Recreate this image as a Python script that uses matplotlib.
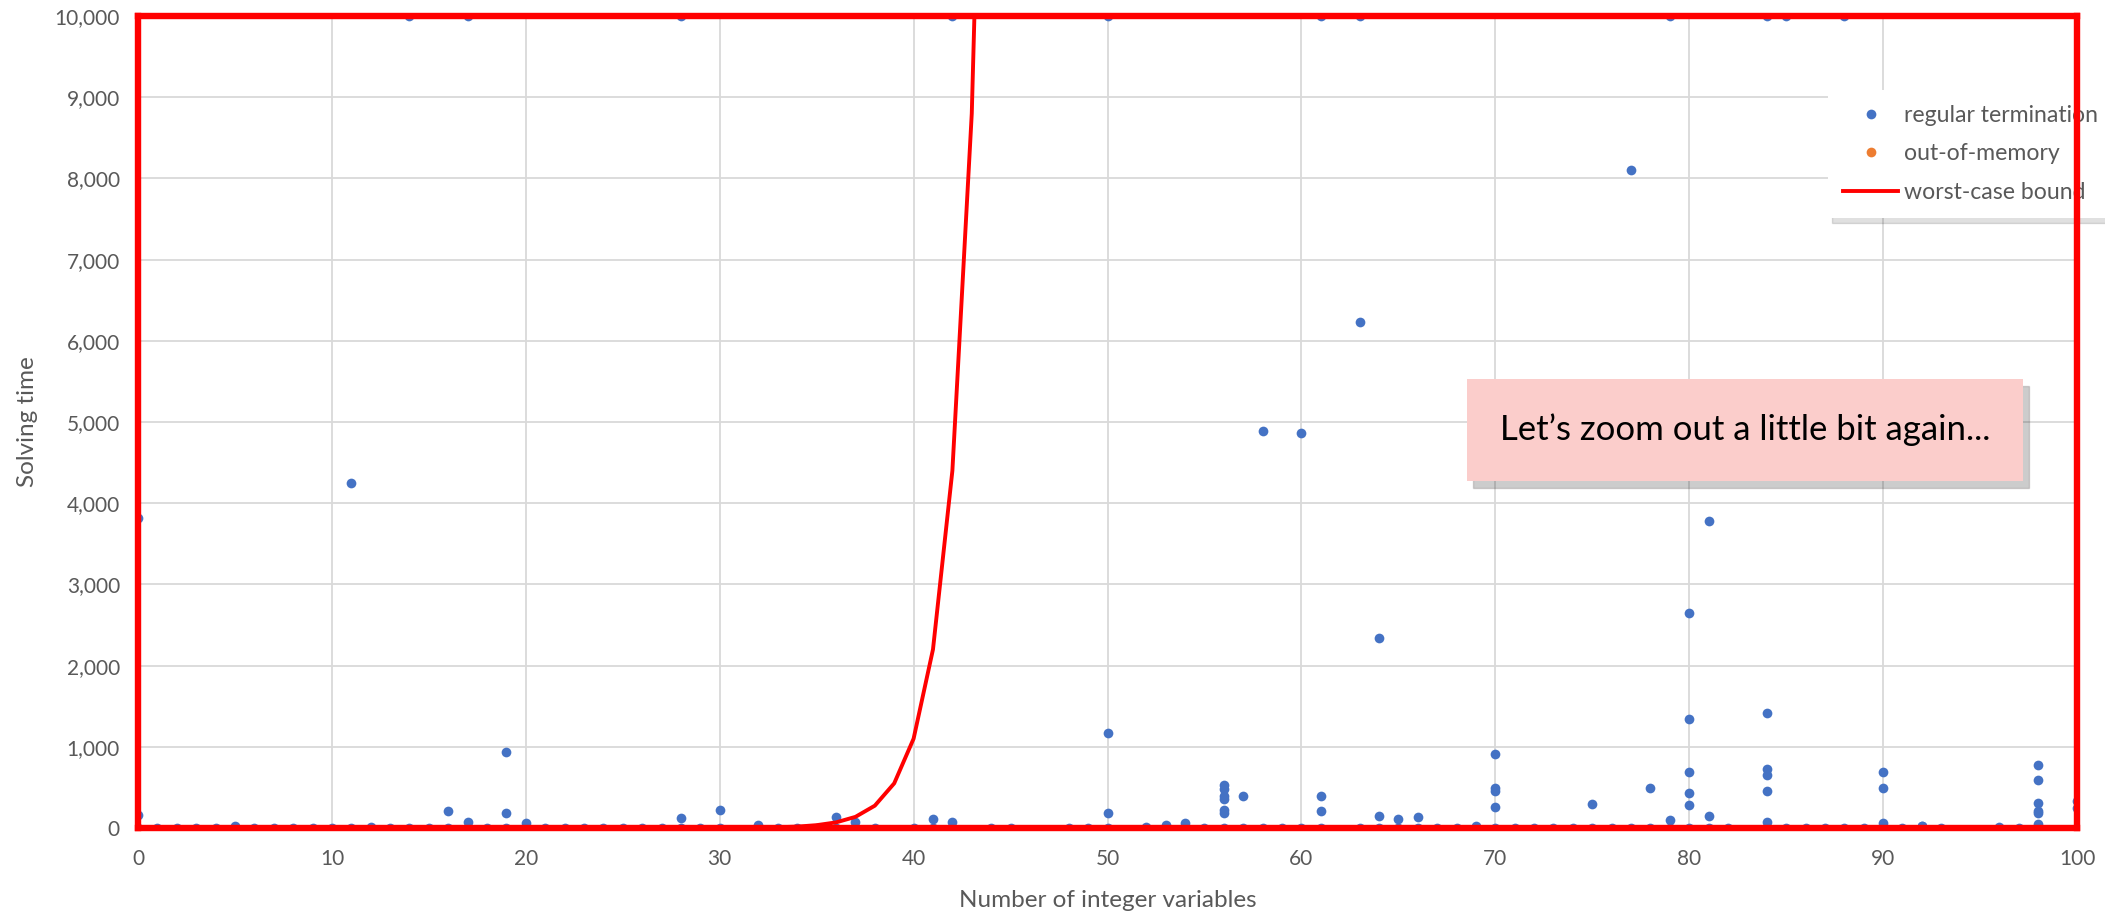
import matplotlib
matplotlib.use("Agg")
import matplotlib.pyplot as plt
from matplotlib.patches import Rectangle, Shadow
from matplotlib.ticker import FuncFormatter, MultipleLocator

plt.rcParams['font.family'] = ['Lato', 'DejaVu Sans']

# runs that finished almost instantly (sit on the x axis)
zero_x = [0, 1, 2, 3, 4, 5, 6, 7, 8, 9, 10, 11, 12, 13, 14, 15, 16, 17, 18, 19,
          20, 21, 22, 23, 24, 25, 26, 27, 28, 29, 30, 32, 33, 34, 35, 36, 37, 38,
          40, 41, 42, 44, 45, 48, 49, 50, 52, 53, 54, 55, 56, 57, 58, 59, 60, 61,
          63, 64, 65, 66, 67, 68, 69, 70, 71, 72, 73, 74, 75, 76, 77, 78, 79, 80,
          81, 82, 84, 85, 86, 87, 88, 89, 90, 91, 92, 93, 96, 97, 98, 100]
zero_y = [0, 0, 0, 0, 0, 30, 0, 0, 0, 0, 0, 0, 10, 0, 0, 0, 0, 0, 0, 0,
          0, 0, 0, 0, 0, 0, 0, 0, 0, 0, 0, 0, 0, 0, 0, 0, 0, 0,
          0, 0, 0, 0, 0, 0, 0, 0, 10, 0, 0, 0, 0, 0, 0, 0, 0, 0,
          0, 0, 0, 0, 0, 0, 20, 0, 0, 0, 0, 0, 0, 0, 0, 0, 0, 0,
          0, 0, 0, 0, 0, 0, 0, 0, 0, 0, 30, 0, 10, 0, 0, 0]

# runs that hit the time limit
timeout_x = [14, 17, 28, 42, 50, 61, 63, 79, 84, 85, 88]
timeout_y = [10000, 10000, 10000, 10000, 10000, 10000, 10000, 10000, 10000, 10000, 10000]

# the remaining runs
other_x = [0, 0, 11, 16, 17, 19, 19, 20, 28, 30, 32, 36, 37, 41, 42, 50, 50, 53, 54,
           56, 56, 56, 56, 56, 56, 57, 58, 60, 61, 61, 63, 64, 64, 65, 66,
           70, 70, 70, 70, 75, 77, 78, 79, 80, 80, 80, 80, 80, 81, 81,
           84, 84, 84, 84, 84, 90, 90, 90, 92, 98, 98, 98, 98, 98, 98, 100, 100]
other_y = [3820, 160, 4250, 210, 75, 935, 185, 60, 120, 220, 40, 130, 70, 115, 70, 1165, 185, 40, 60,
           530, 480, 400, 360, 220, 180, 390, 4890, 4865, 400, 212, 6230, 2340, 150, 115, 135,
           910, 490, 450, 260, 300, 8100, 490, 100, 2650, 1340, 690, 430, 285, 3780, 150,
           1415, 730, 650, 455, 75, 690, 490, 60, 30, 775, 590, 310, 210, 185, 50, 330, 250]

# out-of-memory runs: none visible in this view
oom_x = []
oom_y = []

# worst-case bound curve
bound_x = [0, 5, 10, 15, 20, 25, 30, 31, 32, 33, 34, 35, 36, 37, 38, 39, 40, 41, 42, 43, 44]
bound_y = [0, 0, 0, 0, 0, 0, 1, 2, 4, 9, 17, 35, 69, 137, 275, 550, 1100, 2200, 4400, 8800, 17600]

blue = '#4472C4'
orange = '#ED7D31'
red = '#FF0000'
grey_txt = '#595959'

fig = plt.figure(figsize=(21.05, 9.11), dpi=100)
ax = fig.add_axes([138 / 2105, 1 - 828 / 911, (2077 - 138) / 2105, (828 - 16) / 911])

reg_x = zero_x + timeout_x + other_x
reg_y = zero_y + timeout_y + other_y
ax.plot(reg_x, reg_y, 'o', color=blue, markersize=7, markeredgewidth=0,
        linestyle='none', label='regular termination', zorder=2)
ax.plot(oom_x, oom_y, 'o', color=orange, markersize=7, markeredgewidth=0,
        linestyle='none', label='out-of-memory', zorder=2)
ax.plot(bound_x, bound_y, color=red, linewidth=2.8, label='worst-case bound', zorder=2.2)

ax.set_xlim(0, 100)
ax.set_ylim(0, 10000)
ax.xaxis.set_major_locator(MultipleLocator(10))
ax.yaxis.set_major_locator(MultipleLocator(1000))
ax.yaxis.set_major_formatter(FuncFormatter(lambda v, p: f'{int(v):,}'))
ax.grid(True, color='#D9D9D9', linewidth=1.3)
ax.set_axisbelow(True)
ax.tick_params(length=0, labelsize=15, labelcolor=grey_txt)
ax.tick_params(axis='x', pad=15)
ax.tick_params(axis='y', pad=13)

for s in ax.spines.values():
    s.set_color(red)
    s.set_linewidth(4.6)
    s.set_zorder(3)

ax.set_xlabel('Number of integer variables', fontsize=17.5, color=grey_txt, labelpad=15)
ax.set_ylabel('Solving time', fontsize=17.5, color=grey_txt, labelpad=12)

leg = ax.legend(loc='upper left', bbox_to_anchor=((1828 - 138) / 1939, (828 - 90) / 812),
                borderaxespad=0, fontsize=16.6, frameon=True, fancybox=False,
                handlelength=2.4, handletextpad=0.25, labelspacing=0.75, borderpad=0.65,
                shadow={'ox': 3, 'oy': -4, 'color': 'black', 'alpha': 0.12})
leg.get_frame().set_edgecolor('none')
leg.get_frame().set_facecolor('white')
for t in leg.get_texts():
    t.set_color(grey_txt)
leg.set_zorder(2.6)

# annotation box
box = Rectangle((1467 / 2105, 1 - 481 / 911), (2023 - 1467) / 2105, (481 - 379) / 911,
                transform=fig.transFigure, facecolor='#FBCDCB', edgecolor='none', zorder=5)
sh = Shadow(box, 4 / 2105, -5 / 911, facecolor='black', alpha=0.2, zorder=4.9)
fig.patches.append(sh)
fig.patches.append(box)
fig.text(1745 / 2105, 1 - 430 / 911, 'Let\u2019s zoom out a little bit again...',
         ha='center', va='center', fontsize=25, color='black', zorder=6)

fig.savefig('out.png', dpi=100)
